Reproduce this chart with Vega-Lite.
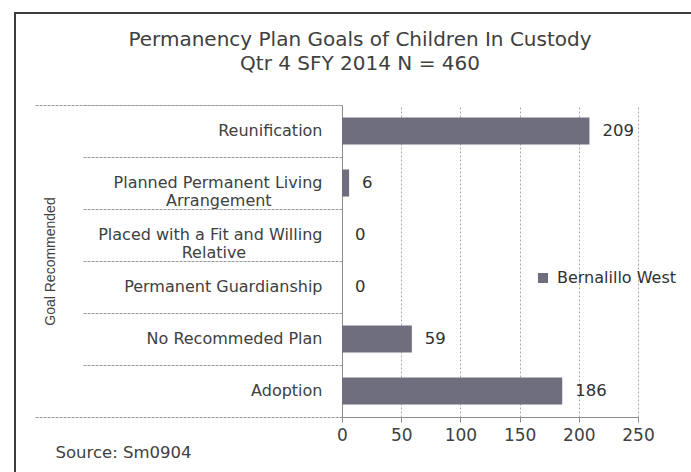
{
  "$schema": "https://vega.github.io/schema/vega-lite/v6.json",
  "width": 700,
  "height": 464,
  "autosize": {"type": "none"},
  "padding": {"left": 15, "top": 13, "right": -24, "bottom": -5},
  "background": "white",
  "title": {
    "text": ["Permanency Plan Goals of Children In Custody", "Qtr 4 SFY 2014 N = 460"],
    "anchor": "middle",
    "frame": "group",
    "baseline": "top",
    "offset": -61,
    "dx": -5,
    "font": "DejaVu Sans",
    "fontSize": 20,
    "fontWeight": "normal",
    "color": "#404040",
    "lineHeight": 24
  },
  "data": {
    "values": [
      {"Goal": "Reunification", "Count": 209, "Series": "Bernalillo West"},
      {"Goal": "Planned Permanent Living Arrangement", "Count": 6, "Series": "Bernalillo West"},
      {"Goal": "Placed with a Fit and Willing Relative", "Count": 0, "Series": "Bernalillo West"},
      {"Goal": "Permanent Guardianship", "Count": 0, "Series": "Bernalillo West"},
      {"Goal": "No Recommeded Plan", "Count": 59, "Series": "Bernalillo West"},
      {"Goal": "Adoption", "Count": 186, "Series": "Bernalillo West"}
    ]
  },
  "layer": [
    {
      "mark": {"type": "bar", "height": {"band": 0.52}},
      "encoding": {
        "y": {
          "field": "Goal", "type": "nominal", "sort": null,
          "scale": {"type": "band", "range": [92, 404], "padding": 0},
          "axis": {
            "orient": "left", "offset": -327, "ticks": false, "domain": true,
            "domainColor": "#8c8c8c", "domainWidth": 1, "grid": false,
            "labelPadding": 20, "labelFont": "DejaVu Sans", "labelFontSize": 16,
            "labelColor": "#404040", "labelLimit": 400, "labelLineHeight": 18,
            "labelExpr": "datum.label == 'Planned Permanent Living Arrangement' ? ['Planned Permanent Living', 'Arrangement\u00a0\u00a0\u00a0\u00a0\u00a0\u00a0\u00a0\u00a0\u00a0\u00a0\u200b'] : datum.label == 'Placed with a Fit and Willing Relative' ? ['Placed with a Fit and Willing', 'Relative\u00a0\u00a0\u00a0\u00a0\u00a0\u00a0\u00a0\u00a0\u00a0\u00a0\u00a0\u00a0\u00a0\u00a0\u00a0\u200b'] : datum.label",
            "title": "Goal Recommended", "titleX": -292, "titleY": 248, "titleAngle": 270,
            "titleAlign": "center", "titleBaseline": "middle",
            "titleFont": "Liberation Sans", "titleFontSize": 14, "titleFontWeight": "normal",
            "titleColor": "#404040"
          }
        },
        "x": {
          "field": "Count", "type": "quantitative",
          "scale": {"domain": [0, 250], "range": [327, 623], "nice": false, "zero": true},
          "axis": {
            "orient": "bottom", "offset": -60, "values": [0, 50, 100, 150, 200, 250],
            "grid": false, "domain": true, "domainColor": "#8c8c8c", "ticks": true,
            "tickSize": 5, "tickColor": "#8c8c8c", "labelFont": "DejaVu Sans",
            "labelFontSize": 17, "labelColor": "#404040", "labelPadding": 5,
            "labelFlush": false, "labelOverlap": false,
            "title": "Source: Sm0904", "titleX": 40, "titleY": 35, "titleAlign": "left",
            "titleBaseline": "middle", "titleFont": "DejaVu Sans", "titleFontSize": 16.5,
            "titleFontWeight": "normal", "titleColor": "#404040"
          }
        },
        "color": {
          "field": "Series", "type": "nominal",
          "scale": {"range": ["#6e6e7e"]},
          "legend": {
            "orient": "none", "legendX": 520, "legendY": 257, "title": null,
            "symbolType": "square", "symbolSize": 100, "labelFont": "DejaVu Sans",
            "labelFontSize": 16, "labelColor": "#303030", "labelOffset": 6
          }
        }
      }
    },
    {
      "mark": {"type": "text", "align": "left", "baseline": "middle", "dx": 13, "font": "DejaVu Sans", "fontSize": 16.5, "color": "#303030"},
      "encoding": {
        "y": {"field": "Goal", "type": "nominal", "sort": null, "axis": null},
        "x": {"field": "Count", "type": "quantitative", "axis": null},
        "text": {"field": "Count", "type": "quantitative"}
      }
    },
    {
      "mark": {"type": "bar", "opacity": 0},
      "encoding": {
        "y": {
          "field": "Goal", "type": "nominal", "sort": null,
          "axis": {
            "orient": "left", "offset": -327, "bandPosition": 0, "ticks": true,
            "tickSize": 260, "tickColor": "#9a9a9a", "tickDash": [3, 1], "tickWidth": 1,
            "labels": false, "domain": false, "title": null, "grid": false
          }
        },
        "x": {
          "field": "Count", "type": "quantitative",
          "axis": {
            "orient": "bottom", "offset": -60, "values": [50, 100, 150, 200, 250],
            "ticks": true, "tickSize": -312, "tickColor": "#a8a8a8", "tickDash": [2, 2],
            "labels": false, "domain": false, "title": null, "grid": false
          }
        }
      }
    },
    {
      "mark": {"type": "bar", "opacity": 0},
      "encoding": {
        "y": {
          "field": "Goal", "type": "nominal", "sort": null,
          "axis": {
            "orient": "left", "offset": -327, "bandPosition": 0, "values": ["Reunification"],
            "ticks": true, "tickSize": 307, "tickColor": "#9a9a9a", "tickDash": [3, 1],
            "labels": false, "domain": false, "title": null, "grid": false
          }
        }
      }
    },
    {
      "mark": {"type": "bar", "opacity": 0},
      "encoding": {
        "y": {
          "field": "Goal", "type": "nominal", "sort": null,
          "axis": {
            "orient": "left", "offset": -327, "bandPosition": 1, "values": ["Adoption"],
            "ticks": true, "tickSize": 307, "tickColor": "#9a9a9a", "tickDash": [3, 1],
            "labels": false, "domain": false, "title": null, "grid": false
          }
        }
      }
    }
  ],
  "resolve": {"axis": {"x": "independent", "y": "independent"}},
  "config": {
    "view": {"stroke": "#3c3c3c", "strokeWidth": 2}
  }
}
